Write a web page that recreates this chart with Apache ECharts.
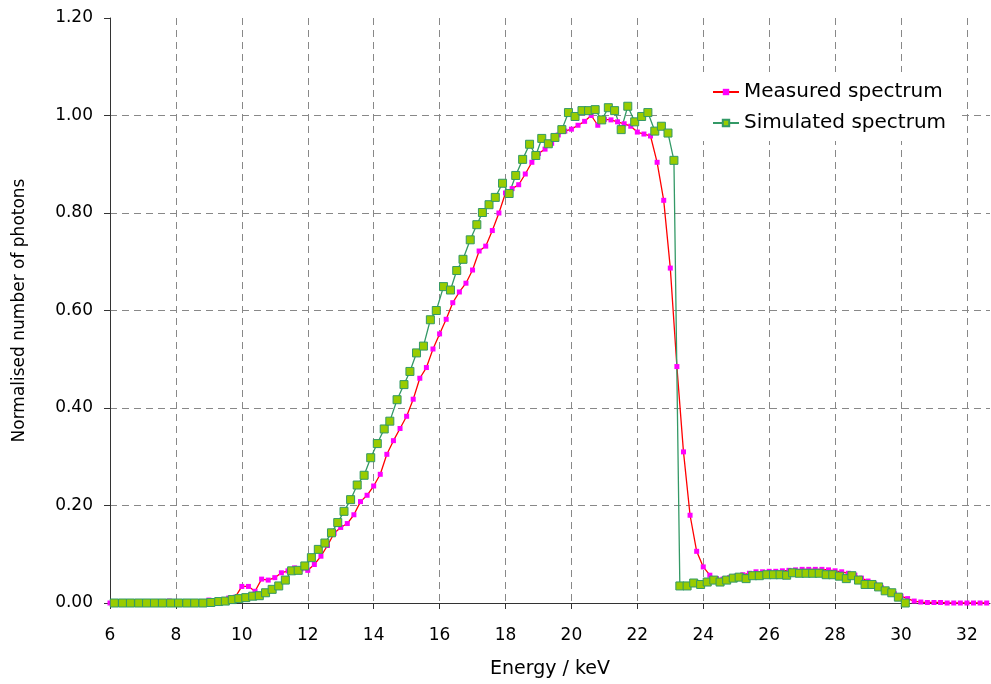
<!DOCTYPE html>
<html>
<head>
<meta charset="utf-8">
<script src="https://cdn.jsdelivr.net/npm/echarts@6/dist/echarts.min.js"></script>
<style>
  html, body { margin: 0; padding: 0; background: #fff; }
  #main { width: 991px; height: 684px; }
</style>
</head>
<body>
<div id="main"></div>
<script>
// measured spectrum (0.2 keV channels)
var measuredEnergy = [
  6.0, 6.2, 6.4, 6.6, 6.8, 7.0, 7.2, 7.4, 7.6, 7.8,
  8.0, 8.2, 8.4, 8.6, 8.8, 9.0, 9.2, 9.4, 9.6, 9.8,
  10.0, 10.2, 10.4, 10.6, 10.8, 11.0, 11.2, 11.4, 11.6, 11.8,
  12.0, 12.2, 12.4, 12.6, 12.8, 13.0, 13.2, 13.4, 13.6, 13.8,
  14.0, 14.2, 14.4, 14.6, 14.8, 15.0, 15.2, 15.4, 15.6, 15.8,
  16.0, 16.2, 16.4, 16.6, 16.8, 17.0, 17.2, 17.4, 17.6, 17.8,
  18.0, 18.2, 18.4, 18.6, 18.8, 19.0, 19.2, 19.4, 19.6, 19.8,
  20.0, 20.2, 20.4, 20.6, 20.8, 21.0, 21.2, 21.4, 21.6, 21.8,
  22.0, 22.2, 22.4, 22.6, 22.8, 23.0, 23.2, 23.4, 23.6, 23.8,
  24.0, 24.2, 24.4, 24.6, 24.8, 25.0, 25.2, 25.4, 25.6, 25.8,
  26.0, 26.2, 26.4, 26.6, 26.8, 27.0, 27.2, 27.4, 27.6, 27.8,
  28.0, 28.2, 28.4, 28.6, 28.8, 29.0, 29.2, 29.4, 29.6, 29.8,
  30.0, 30.2, 30.4, 30.6, 30.8, 31.0, 31.2, 31.4, 31.6, 31.8,
  32.0, 32.2, 32.4, 32.6
];
var measuredValue = [
  0, 0, 0, 0, 0, 0, 0, 0, 0, 0.004,
  0, 0, 0, 0, 0, 0.006, 0.003, 0.004, 0.010, 0.012,
  0.034, 0.034, 0.024, 0.049, 0.047, 0.052, 0.062, 0.066, 0.072, 0.070,
  0.067, 0.079, 0.096, 0.118, 0.143, 0.155, 0.163, 0.181, 0.208, 0.221,
  0.240, 0.264, 0.305, 0.333, 0.358, 0.383, 0.418, 0.461, 0.483, 0.521,
  0.552, 0.582, 0.616, 0.638, 0.656, 0.683, 0.722, 0.732, 0.764, 0.800,
  0.841, 0.850, 0.858, 0.880, 0.904, 0.922, 0.931, 0.943, 0.960, 0.968,
  0.972, 0.980, 0.988, 1.000, 0.980, 0.992, 0.991, 0.987, 0.983, 0.978,
  0.966, 0.962, 0.958, 0.904, 0.826, 0.687, 0.485, 0.310, 0.180, 0.106,
  0.074, 0.057, 0.050, 0.049, 0.052, 0.055, 0.058, 0.061, 0.064, 0.064,
  0.065, 0.065, 0.066, 0.067, 0.068, 0.069, 0.069, 0.069, 0.069, 0.068,
  0.066, 0.064, 0.061, 0.057, 0.051, 0.045, 0.039, 0.032, 0.025, 0.019,
  0.014, 0.009, 0.004, 0.002, 0.001, 0.001, 0.001, 0, 0, 0,
  0, 0, 0, 0
];

// simulated spectrum
var simulatedEnergy = [
  6.13, 6.38, 6.62, 6.87, 7.11, 7.35, 7.59, 7.84, 8.08, 8.33,
  8.57, 8.82, 9.06, 9.30, 9.50, 9.71, 9.91, 10.12, 10.33, 10.53,
  10.72, 10.92, 11.12, 11.32, 11.51, 11.71, 11.91, 12.11, 12.32, 12.52,
  12.72, 12.91, 13.10, 13.30, 13.50, 13.71, 13.91, 14.11, 14.32, 14.49,
  14.71, 14.92, 15.10, 15.30, 15.51, 15.72, 15.90, 16.12, 16.33, 16.52,
  16.71, 16.93, 17.13, 17.30, 17.50, 17.69, 17.91, 18.11, 18.31, 18.52,
  18.73, 18.92, 19.10, 19.30, 19.50, 19.71, 19.91, 20.11, 20.32, 20.52,
  20.72, 20.92, 21.12, 21.31, 21.51, 21.71, 21.92, 22.13, 22.32, 22.53,
  22.73, 22.93, 23.11, 23.29, 23.51, 23.71, 23.92, 24.12, 24.32, 24.51,
  24.71, 24.91, 25.09, 25.30, 25.50, 25.70, 25.93, 26.13, 26.33, 26.53,
  26.71, 26.92, 27.12, 27.32, 27.52, 27.73, 27.93, 28.13, 28.34, 28.51,
  28.71, 28.91, 29.12, 29.32, 29.52, 29.72, 29.92, 30.13
];
var simulatedValue = [
  0, 0, 0, 0, 0, 0, 0, 0, 0, 0,
  0, 0, 0.001, 0.003, 0.004, 0.007, 0.009, 0.011, 0.014, 0.015,
  0.021, 0.028, 0.035, 0.047, 0.066, 0.067, 0.076, 0.093, 0.110, 0.123,
  0.144, 0.165, 0.188, 0.212, 0.242, 0.262, 0.298, 0.327, 0.357, 0.373,
  0.417, 0.448, 0.475, 0.513, 0.527, 0.581, 0.600, 0.649, 0.642, 0.682,
  0.705, 0.745, 0.776, 0.801, 0.817, 0.832, 0.861, 0.840, 0.877, 0.910,
  0.941, 0.918, 0.953, 0.942, 0.955, 0.971, 1.006, 0.998, 1.010, 1.010,
  1.012, 0.991, 1.016, 1.010, 0.971, 1.019, 0.987, 0.998, 1.006, 0.968,
  0.978, 0.964, 0.908, 0.035, 0.035, 0.041, 0.038, 0.043, 0.047, 0.043,
  0.047, 0.051, 0.053, 0.050, 0.056, 0.056, 0.058, 0.058, 0.058, 0.057,
  0.062, 0.061, 0.061, 0.061, 0.061, 0.058, 0.058, 0.055, 0.050, 0.056,
  0.047, 0.038, 0.038, 0.033, 0.025, 0.021, 0.012, 0.000
];

var seriesNames = ['Measured spectrum', 'Simulated spectrum'];

function pairs(xs, ys) {
  var out = [];
  for (var i = 0; i < xs.length; i++) {
    out.push([xs[i], ys[i]]);
  }
  return out;
}

var myChart = echarts.init(document.getElementById('main'));
var font = 'DejaVu Sans';

var option = {
  backgroundColor: '#ffffff',
  animation: false,
  grid: {
    left: 110,
    right: 1,
    top: 18,
    bottom: 81
  },
  legend: {
    orient: 'vertical',
    left: 697,
    top: 72,
    padding: [10, 15, 8, 15],
    backgroundColor: '#ffffff',
    itemWidth: 26,
    itemHeight: 8,
    itemGap: 11,
    textStyle: { fontFamily: font, fontSize: 20, color: '#000' },
    data: seriesNames
  },
  xAxis: {
    type: 'value',
    min: 6,
    max: 32.7,
    interval: 2,
    name: 'Energy / keV',
    nameLocation: 'middle',
    nameGap: 57,
    nameTextStyle: { fontFamily: font, fontSize: 19, color: '#000' },
    axisLine: { show: true, lineStyle: { color: '#333', width: 1 } },
    axisTick: { show: true, length: 6, lineStyle: { color: '#333' } },
    axisLabel: {
      margin: 24,
      fontFamily: font,
      fontSize: 17,
      color: '#000',
      showMaxLabel: false,
      formatter: function (v) { return v % 2 === 0 ? String(v) : ''; }
    },
    splitLine: {
      show: true,
      showMinLine: false,
      showMaxLine: false,
      lineStyle: { color: '#888', type: [7, 5], width: 1 }
    }
  },
  yAxis: {
    type: 'value',
    min: 0,
    max: 1.2,
    interval: 0.2,
    name: 'Normalised number of photons',
    nameLocation: 'middle',
    nameGap: 82,
    nameTextStyle: { fontFamily: font, fontSize: 17, color: '#000' },
    axisLine: { show: true, lineStyle: { color: '#333', width: 1 } },
    axisTick: { show: true, length: 6, lineStyle: { color: '#333' } },
    axisLabel: {
      margin: 17,
      fontFamily: font,
      fontSize: 17,
      color: '#000',
      formatter: function (v) { return v.toFixed(2); }
    },
    splitLine: {
      show: true,
      showMinLine: false,
      showMaxLine: false,
      lineStyle: { color: '#888', type: [7, 5], width: 1 }
    }
  },
  series: [
    {
      name: seriesNames[0],
      type: 'line',
      data: pairs(measuredEnergy, measuredValue),
      symbol: 'rect',
      symbolSize: 5,
      showAllSymbol: true,
      lineStyle: { color: '#ff0000', width: 1.3 },
      itemStyle: { color: '#ff00ff' }
    },
    {
      name: seriesNames[1],
      type: 'line',
      data: pairs(simulatedEnergy, simulatedValue),
      symbol: 'rect',
      symbolSize: 8,
      showAllSymbol: true,
      lineStyle: { color: '#339966', width: 1.3 },
      itemStyle: { color: '#99cc00', borderColor: '#339966', borderWidth: 1 }
    }
  ]
};

myChart.setOption(option);
</script>
</body>
</html>
